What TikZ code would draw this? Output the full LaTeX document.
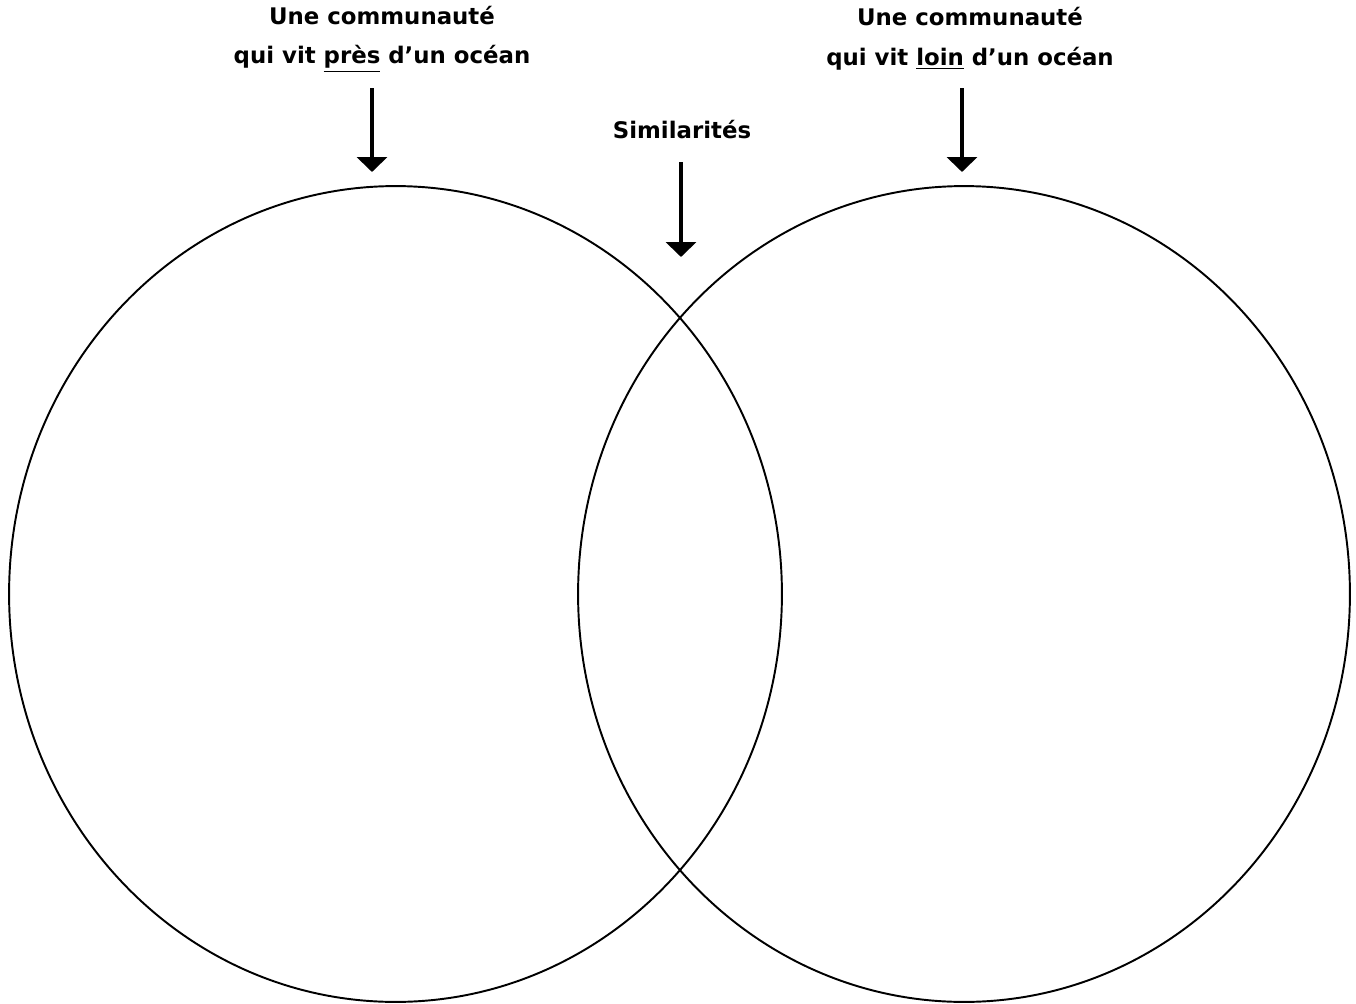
\documentclass[tikz,border=0pt]{standalone}
\usepackage{fontspec}
\setmainfont{DejaVu Sans}
\usetikzlibrary{arrows.meta,shapes.geometric}

\tikzset{
  titre/.style={align=center, font=\bfseries\fontsize{13}{22.7}\selectfont},
  fleche/.style={line width=2.4pt, -{Triangle[width=17pt,length=8.5pt]}},
  ensemble/.style={ellipse, draw, line width=1.1pt, inner sep=0pt}
}

\begin{document}
\begin{tikzpicture}[x=0.02cm,y=-0.02cm]
    \useasboundingbox (0,0) rectangle (1356,1004);

    % Ensembles
    \node[ensemble, minimum width=15.46cm, minimum height=16.32cm] (gauche) at (395.5,594) {};
    \node[ensemble, minimum width=15.44cm, minimum height=16.32cm] (droite) at (964,594) {};

    % Titres
    \node[titre] (pres) at (382,39) {Une communauté\\qui vit \underline{près} d’un océan};
    \node[titre] (loin) at (970,39) {Une communauté\\qui vit \underline{loin} d’un océan};
    \node[titre] (simil) at (682,130) {Similarités};

    % Fleches
    \coordinate (pbout) at (372,172);
    \coordinate (lbout) at (962,172);
    \coordinate (sbout) at (681,257);
    \draw[fleche] (372,88) -- (pbout);
    \draw[fleche] (962,88) -- (lbout);
    \draw[fleche] (681,162) -- (sbout);
\end{tikzpicture}
\end{document}
